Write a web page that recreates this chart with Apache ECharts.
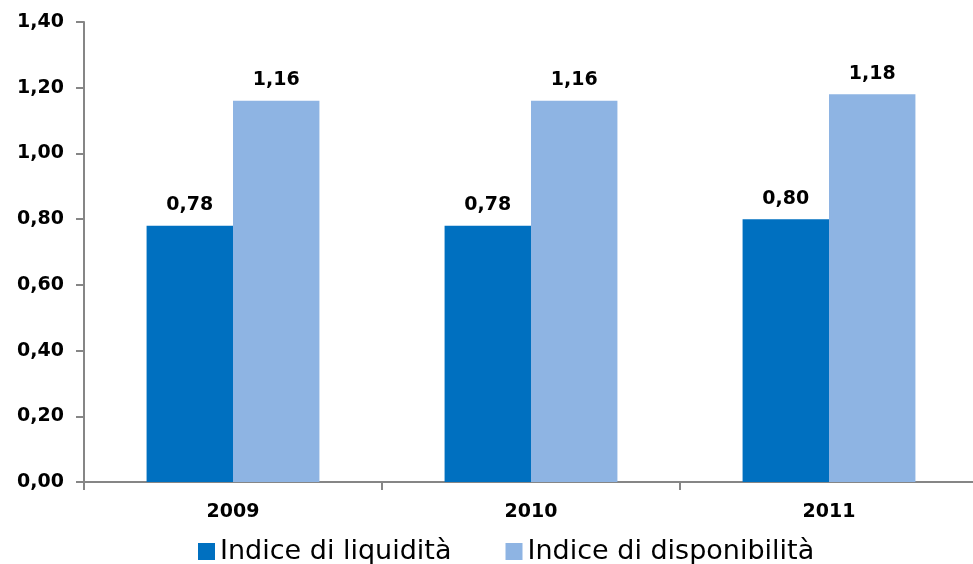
<!DOCTYPE html>
<html>
<head>
<meta charset="utf-8">
<script src="https://cdn.jsdelivr.net/npm/echarts@6/dist/echarts.min.js"></script>
<style>
  html, body { margin: 0; padding: 0; background: #fff; overflow: hidden; }
  /* l'asse x prosegue oltre il bordo destro, come nell'originale */
  #chart { width: 980px; height: 564px; }
</style>
</head>
<body>
<div id="chart"></div>
<script>
// dati
const years = ['2009', '2010', '2011'];
const liquidita = [0.78, 0.78, 0.80];
const disponibilita = [1.16, 1.16, 1.18];

const colors = {
  dark: '#0070C0',
  light: '#8EB4E3',
  axis: '#868686',
  text: '#000000',
};

function fmt(v) {
  return Number(v).toFixed(2).replace('.', ',');
}

const labelStyle = {
  show: true,
  position: 'top',
  distance: 11,
  color: colors.text,
  fontFamily: 'DejaVu Sans',
  fontWeight: 'bold',
  fontSize: 19,
  formatter: (p) => fmt(p.value),
};

const chart = echarts.init(document.getElementById('chart'));

chart.setOption({
  animation: false,
  grid: {
    left: 84,
    top: 22,
    width: 894,
    bottom: 82,
    containLabel: false,
  },
  legend: {
    top: 533,
    left: 193,
    itemWidth: 17,
    itemHeight: 17,
    itemGap: 54,
    icon: 'rect',
    textStyle: {
      color: colors.text,
      fontFamily: 'DejaVu Sans',
      fontSize: 27,
    },
    data: ['Indice di liquidità', 'Indice di disponibilità'],
  },
  xAxis: {
    type: 'category',
    data: years,
    axisLine: { lineStyle: { color: colors.axis, width: 2 } },
    axisTick: { show: true, length: 8, lineStyle: { color: colors.axis, width: 2 } },
    axisLabel: {
      margin: 21,
      color: colors.text,
      fontFamily: 'DejaVu Sans',
      fontWeight: 'bold',
      fontSize: 19,
    },
  },
  yAxis: {
    type: 'value',
    min: 0,
    max: 1.4,
    interval: 0.2,
    splitLine: { show: false },
    axisLine: { show: true, lineStyle: { color: colors.axis, width: 2 } },
    axisTick: { show: true, length: 8, lineStyle: { color: colors.axis, width: 2 } },
    axisLabel: {
      margin: 20,
      color: colors.text,
      fontFamily: 'DejaVu Sans',
      fontWeight: 'bold',
      fontSize: 19,
      formatter: fmt,
    },
  },
  series: [
    {
      name: 'Indice di liquidità',
      type: 'bar',
      data: liquidita,
      color: colors.dark,
      barGap: '0%',
      barCategoryGap: '42%',
      label: labelStyle,
    },
    {
      name: 'Indice di disponibilità',
      type: 'bar',
      data: disponibilita,
      color: colors.light,
      label: labelStyle,
    },
  ],
});
</script>
</body>
</html>
